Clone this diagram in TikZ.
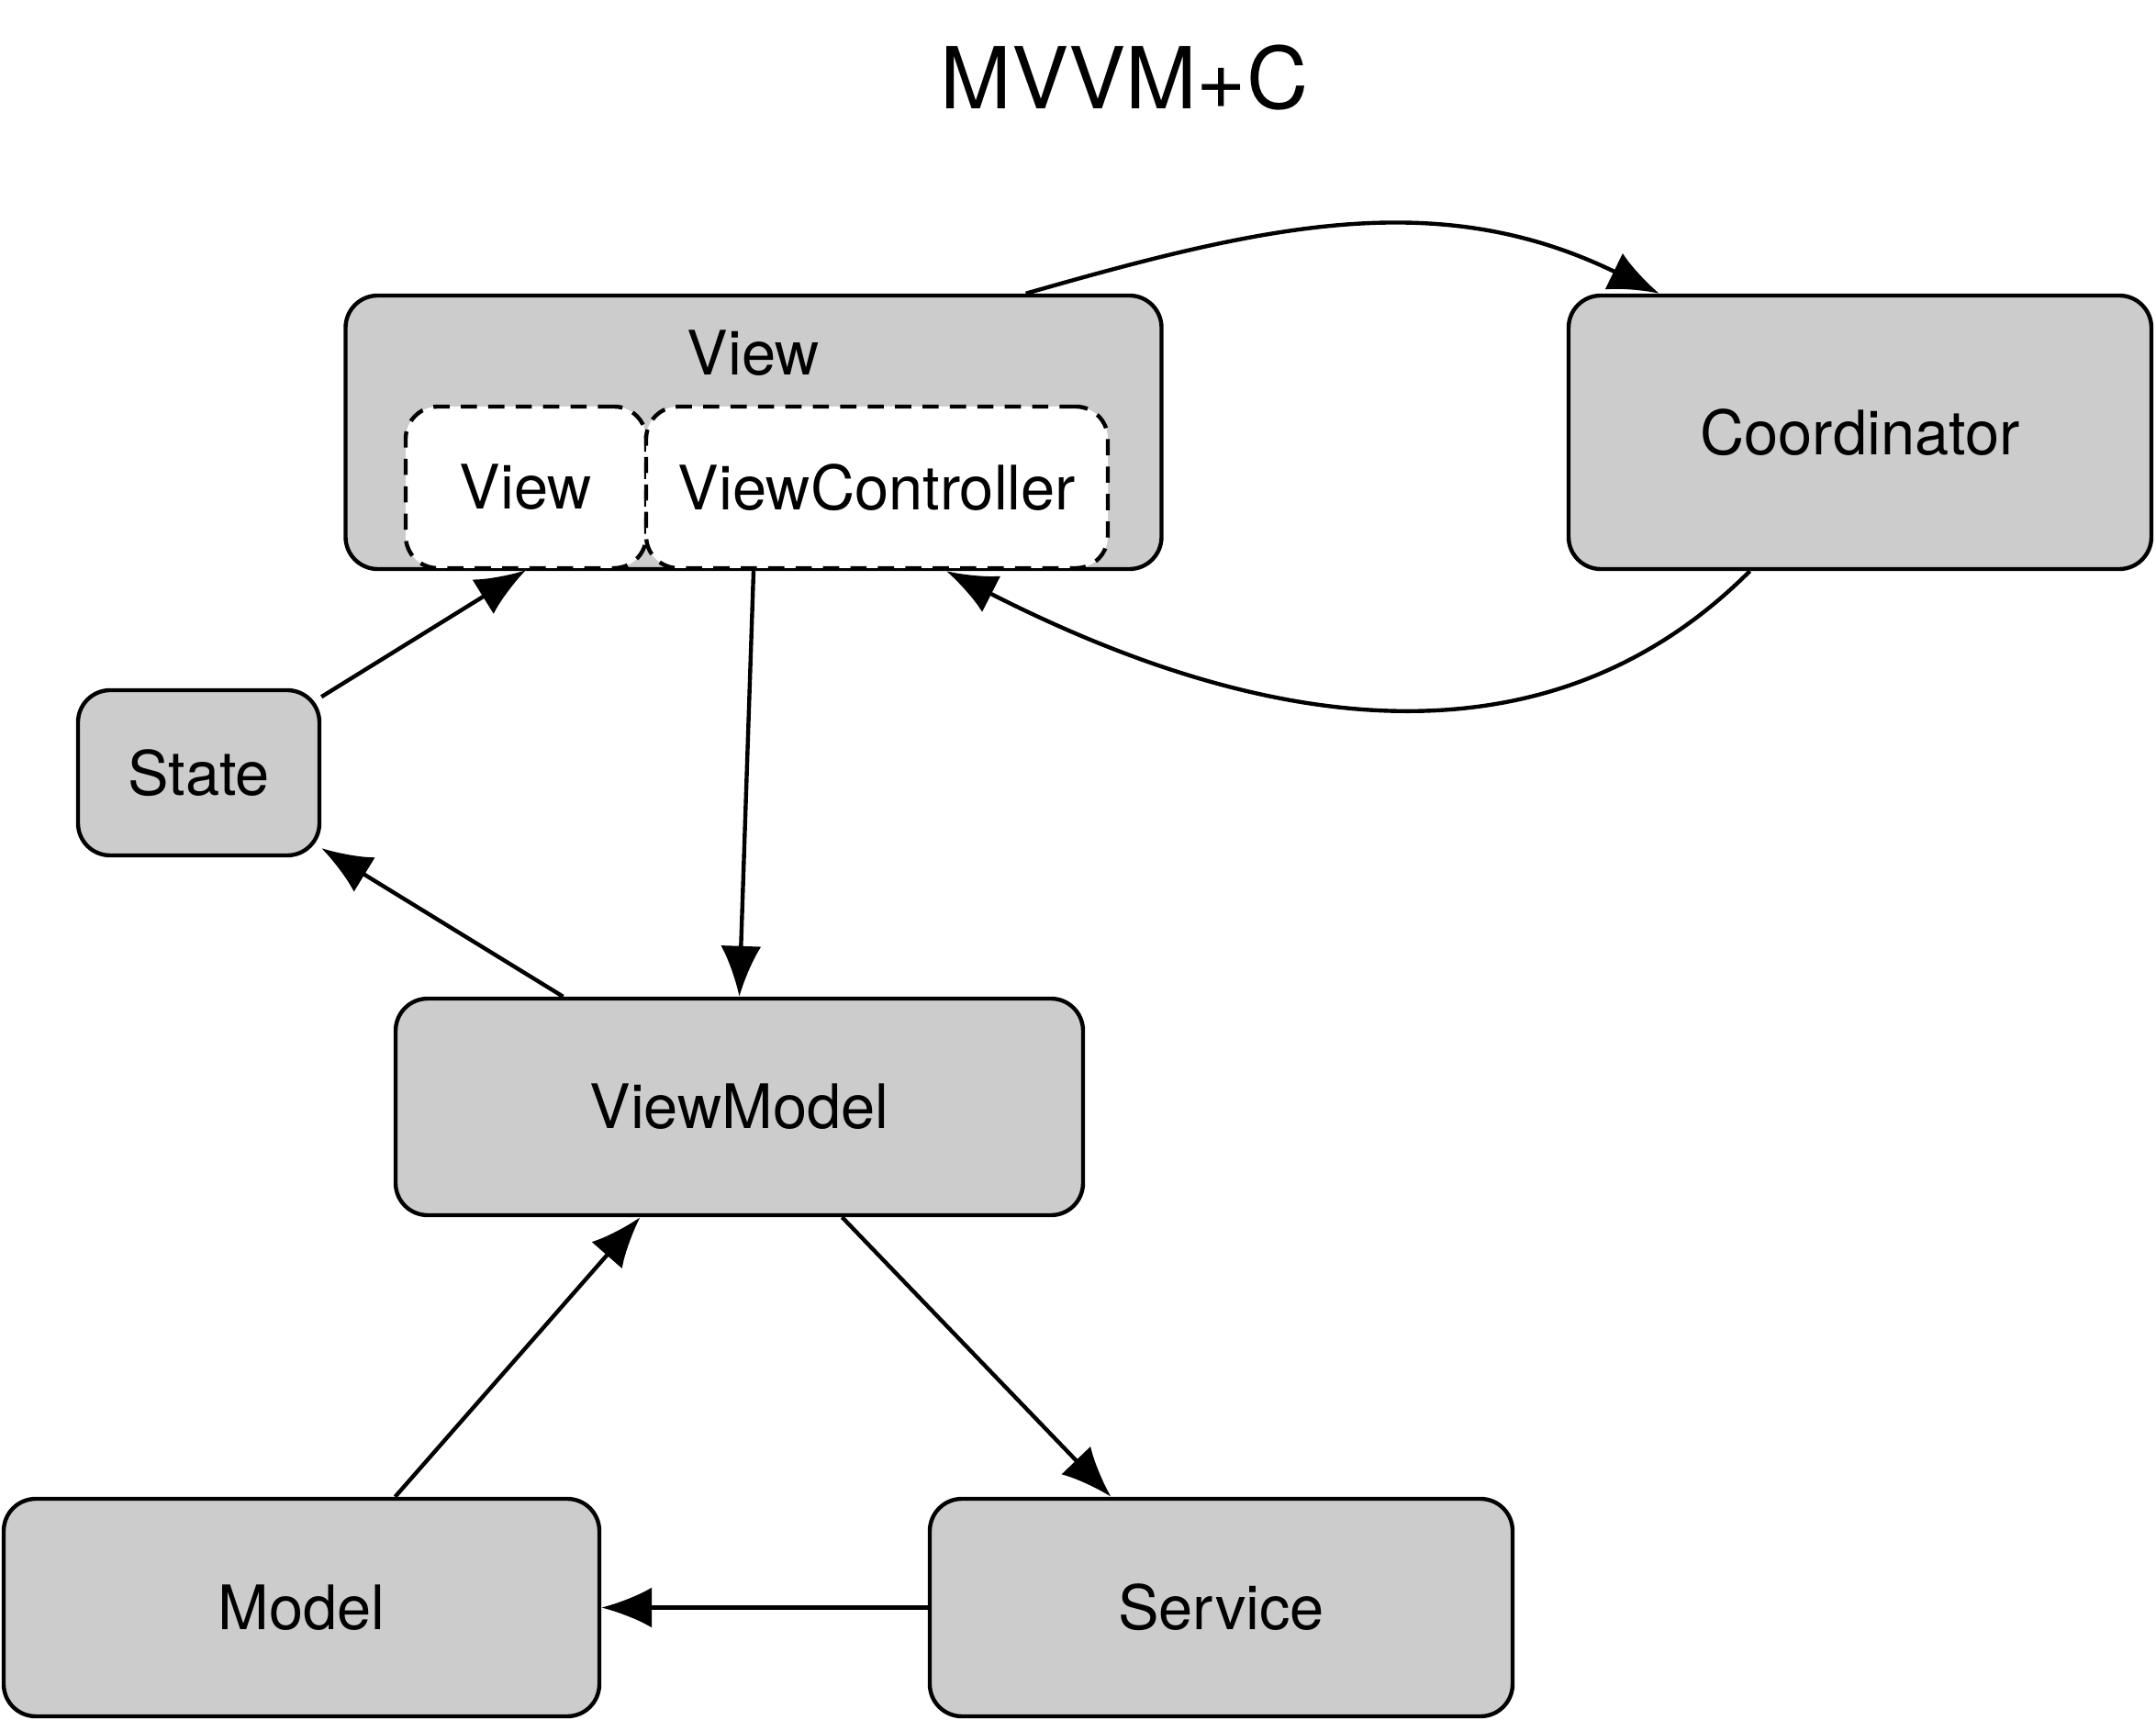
\documentclass[tikz,border=0pt]{standalone}
\usepackage{fontspec}
\setmainfont{TeX Gyre Heros}
\usetikzlibrary{arrows.meta}
\definecolor{boxgray}{HTML}{CCCCCC}
\begin{document}
\begin{tikzpicture} [>={Latex[length=5.5mm, width=4.4mm]}, line width=1.25pt,
	block/.style={draw, fill=boxgray, rounded corners=0.35cm, inner sep=0pt},
	part/.style={draw, fill=white, dash pattern=on 5pt off 3.5pt, rounded corners=0.35cm, inner sep=0pt},
	lbl/.style={font=\fontsize{19}{23}\selectfont}]
	\useasboundingbox (0,0) rectangle (23.49,-18.74);
	\node [font=\fontsize{26.5}{32}\selectfont] (title) at (12.25,-0.85) {MVVM+C};
	\node [block, minimum width=8.89cm, minimum height=2.98cm] (view) at (8.21,-4.71) {};
	\node [lbl] (viewtitle) at (8.21,-3.85) {View};
	\node [part, lbl, minimum width=2.62cm, minimum height=1.76cm] (innerview) at (5.73,-5.31) {View};
	\node [part, lbl, minimum width=5.03cm, minimum height=1.76cm] (vc) at (9.555,-5.31) {ViewController};
	\node [block, lbl, minimum width=6.35cm, minimum height=2.98cm] (coord) at (20.265,-4.71) {Coordinator};
	\node [block, lbl, minimum width=2.63cm, minimum height=1.80cm] (state) at (2.165,-8.42) {State};
	\node [block, lbl, minimum width=7.49cm, minimum height=2.36cm] (vm) at (8.055,-12.06) {ViewModel};
	\node [block, lbl, minimum width=6.49cm, minimum height=2.37cm] (model) at (3.285,-17.515) {Model};
	\node [block, lbl, minimum width=6.35cm, minimum height=2.37cm] (service) at (13.305,-17.515) {Service};
	\draw [->] ([xshift=-1.5cm]view.north east) to [out=16, in=154] ([xshift=1.01cm]coord.north west);
	\draw [->] ([xshift=-1.2cm]coord.south) to [out=-135, in=-27] ([xshift=2.1cm]view.south);
	\draw [->] (state) -- (innerview.south);
	\draw [->] ([xshift=-1.92cm]vm.north) -- (state);
	\draw [->] (view.south) -- (vm.north);
	\draw [->] ([xshift=1.02cm]model.north) -- ([xshift=-1.08cm]vm.south);
	\draw [->] ([xshift=1.12cm]vm.south) -- ([xshift=-1.2cm]service.north);
	\draw [->] (service) -- (model);
\end{tikzpicture}
\end{document}
